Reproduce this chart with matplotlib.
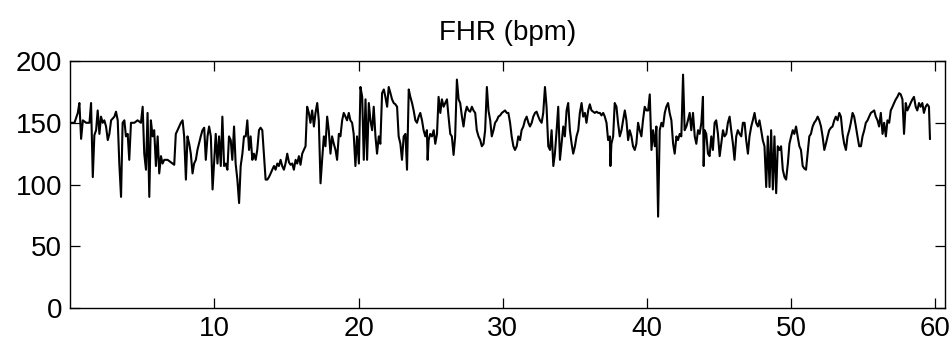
import matplotlib
matplotlib.use("Agg")
import matplotlib.pyplot as plt

plt.rcParams['font.family'] = ['Liberation Sans', 'DejaVu Sans']

# FHR trace (time in minutes, bpm)
minutes = [
    0.06, 0.29, 0.52, 0.63, 0.75, 0.87, 1.10, 1.33, 1.44, 1.56, 1.67, 1.79, 1.90, 2.02, 2.13, 2.25,
    2.36, 2.48, 2.60, 2.71, 2.83, 3.06, 3.17, 3.29, 3.40, 3.52, 3.63, 3.75, 3.86, 3.98, 4.09, 4.21,
    4.44, 4.67, 4.90, 5.02, 5.13, 5.25, 5.36, 5.48, 5.59, 5.71, 5.82, 5.94, 6.06, 6.17, 6.29, 6.40,
    6.52, 6.75, 6.98, 7.21, 7.32, 7.44, 7.67, 7.79, 7.90, 8.02, 8.13, 8.25, 8.36, 8.48, 8.59, 8.71,
    8.82, 9.05, 9.17, 9.29, 9.40, 9.52, 9.63, 9.75, 9.87,
    10.09, 10.21, 10.32, 10.44, 10.55, 10.67, 10.78, 10.90, 11.01, 11.13, 11.24, 11.36, 11.47, 11.59,
    11.71, 11.82, 11.94, 12.05, 12.17, 12.28, 12.40, 12.51, 12.63, 12.74, 12.86, 12.97, 13.09, 13.20,
    13.32, 13.44, 13.55, 13.67, 13.78, 13.90, 14.01, 14.13, 14.24, 14.36, 14.47, 14.59, 14.70, 14.82,
    14.93, 15.05, 15.17, 15.28, 15.40, 15.51, 15.63, 15.74, 15.86, 15.97, 16.09, 16.20, 16.32, 16.43,
    16.55, 16.66, 16.78, 16.90, 17.01, 17.13, 17.24, 17.36, 17.47, 17.59, 17.70, 17.82, 17.93, 18.05,
    18.16, 18.28, 18.40, 18.51, 18.63, 18.74, 18.86, 18.97, 19.09, 19.20, 19.32, 19.43, 19.55, 19.66,
    19.78, 19.89,
    20.02, 20.13, 20.25, 20.36, 20.48, 20.59, 20.71, 20.82, 20.94, 21.05, 21.17, 21.28, 21.40, 21.51,
    21.63, 21.75, 21.86, 21.98, 22.09, 22.21, 22.32, 22.44, 22.55, 22.67, 22.78, 22.90, 23.01, 23.13,
    23.25, 23.36, 23.48, 23.59, 23.71, 23.82, 23.94, 24.05, 24.17, 24.28, 24.40, 24.51, 24.63, 24.74,
    24.79, 24.86, 24.97, 25.09, 25.21, 25.32, 25.44, 25.55, 25.67, 25.78, 25.90, 26.01, 26.13, 26.24,
    26.36, 26.47, 26.59, 26.70, 26.82, 26.94, 27.05, 27.17, 27.28, 27.40, 27.51, 27.63, 27.74, 27.86,
    27.97, 28.09, 28.20, 28.32, 28.44, 28.55, 28.67, 28.78, 28.90, 29.01, 29.13, 29.24, 29.36, 29.47,
    29.59, 29.70, 29.82, 29.94,
    30.16, 30.28, 30.39, 30.51, 30.62, 30.74, 30.85, 30.97, 31.08, 31.20, 31.31, 31.43, 31.54, 31.66,
    31.78, 31.89, 32.01, 32.12, 32.24, 32.35, 32.47, 32.58, 32.70, 32.81, 32.93, 33.04, 33.16, 33.28,
    33.39, 33.51, 33.62, 33.74, 33.85, 33.97, 34.08, 34.20, 34.31, 34.43, 34.54, 34.66, 34.78, 34.89,
    35.01, 35.12, 35.24, 35.35, 35.47, 35.58, 35.70, 35.81, 35.93, 36.04, 36.16, 36.28, 36.39, 36.51,
    36.62, 36.74, 36.85, 36.97, 37.08, 37.20, 37.31, 37.43, 37.47, 37.54, 37.66, 37.77, 37.89, 38.00,
    38.12, 38.24, 38.35, 38.47, 38.58, 38.70, 38.81, 38.93, 39.04, 39.16, 39.27, 39.39, 39.50, 39.62,
    39.73, 39.85, 39.97,
    40.09, 40.20, 40.32, 40.43, 40.55, 40.66, 40.78, 40.89, 41.01, 41.12, 41.24, 41.35, 41.47, 41.58,
    41.70, 41.82, 41.93, 42.05, 42.16, 42.28, 42.39, 42.51, 42.62, 42.74, 42.85, 42.97, 43.08, 43.20,
    43.32, 43.43, 43.55, 43.66, 43.78, 43.89, 43.94, 44.01, 44.12, 44.24, 44.35, 44.47, 44.58, 44.70,
    44.81, 44.93, 45.05, 45.16, 45.28, 45.39, 45.51, 45.62, 45.74, 45.85, 45.97, 46.08, 46.20, 46.31,
    46.43, 46.55, 46.66, 46.78, 46.89, 47.01, 47.12, 47.24, 47.35, 47.47, 47.58, 47.70, 47.81, 47.93,
    48.04, 48.16, 48.28, 48.39, 48.51, 48.62, 48.74, 48.85, 48.97, 49.08, 49.20, 49.31, 49.43, 49.55,
    49.66, 49.78, 49.89, 50.01, 50.12,
    50.23, 50.35, 50.46, 50.58, 50.69, 50.81, 50.92, 51.04, 51.15, 51.27, 51.38, 51.50, 51.61, 51.73,
    51.85, 51.96, 52.08, 52.19, 52.31, 52.42, 52.54, 52.65, 52.77, 52.88, 53.00, 53.11, 53.23, 53.35,
    53.46, 53.58, 53.69, 53.81, 53.92, 54.04, 54.15, 54.27, 54.38, 54.50, 54.61, 54.73, 54.85, 54.96,
    55.08, 55.19, 55.31, 55.42, 55.54, 55.65, 55.77, 55.88, 56.00, 56.11, 56.23, 56.35, 56.46, 56.58,
    56.69, 56.81, 56.92, 57.04, 57.15, 57.27, 57.38, 57.50, 57.61, 57.73, 57.84, 57.96, 58.07, 58.19,
    58.30, 58.42, 58.53, 58.65, 58.76, 58.88, 58.99, 59.11, 59.22, 59.34, 59.45, 59.57, 59.64,
]

fhr = [
    150, 150, 158, 166, 137, 152, 150, 150, 166, 106, 140, 144, 160, 141, 155, 150,
    152, 147, 136, 141, 152, 155, 159, 152, 117, 90, 150, 152, 139, 141, 120, 150,
    150, 152, 150, 163, 125, 112, 158, 90, 152, 139, 144, 115, 139, 109, 123, 117,
    120, 120, 118, 116, 141, 144, 150, 152, 139, 104, 139, 133, 125, 109, 117, 120,
    128, 139, 144, 146, 120, 139, 147, 139, 96,
    141, 117, 139, 115, 155, 115, 117, 112, 139, 136, 120, 147, 117, 104,
    85, 115, 125, 139, 139, 152, 128, 139, 120, 125, 120, 128, 144, 146,
    144, 123, 104, 104, 106, 109, 112, 115, 112, 117, 115, 120, 115, 112,
    117, 125, 118, 116, 117, 112, 120, 117, 123, 116, 125, 128, 131, 163,
    158, 150, 160, 147, 158, 166, 152, 101, 120, 139, 131, 155, 144, 125,
    139, 133, 128, 120, 141, 139, 152, 158, 155, 152, 158, 152, 150, 141,
    115, 139,
    117, 179, 171, 120, 169, 120, 166, 152, 144, 163, 139, 125, 139, 133,
    174, 177, 171, 163, 179, 174, 169, 166, 165, 163, 139, 133, 120, 139,
    141, 112, 177, 171, 166, 160, 152, 150, 155, 158, 152, 144, 139, 144,
    120, 136, 141, 139, 144, 133, 141, 171, 158, 169, 163, 166, 169, 155,
    141, 139, 124, 139, 185, 169, 166, 155, 147, 158, 163, 160, 159, 163,
    160, 158, 144, 139, 136, 131, 133, 144, 179, 160, 152, 139, 144, 150,
    152, 155, 156, 158,
    160, 158, 158, 150, 139, 131, 128, 131, 139, 136, 144, 147, 152, 155,
    150, 147, 150, 155, 158, 159, 155, 152, 150, 158, 179, 163, 131, 128,
    144, 115, 125, 144, 163, 120, 133, 147, 139, 160, 166, 144, 133, 125,
    131, 139, 144, 158, 166, 155, 158, 150, 160, 165, 160, 159, 158, 159,
    158, 158, 156, 158, 155, 150, 136, 139, 115, 133, 139, 166, 163, 150,
    139, 144, 152, 160, 152, 136, 144, 139, 131, 128, 133, 150, 144, 139,
    152, 163, 160,
    160, 173, 128, 144, 131, 147, 74, 144, 150, 147, 158, 163, 166, 158,
    152, 133, 125, 139, 136, 141, 139, 189, 144, 147, 152, 158, 144, 158,
    139, 133, 144, 141, 150, 171, 115, 144, 141, 125, 123, 139, 128, 150,
    152, 141, 123, 133, 144, 139, 141, 150, 155, 144, 133, 120, 139, 144,
    141, 139, 150, 150, 136, 125, 139, 147, 152, 158, 150, 147, 152, 144,
    136, 131, 98, 139, 98, 144, 96, 139, 93, 131, 128, 131, 112, 106,
    104, 117, 133, 139, 144,
    141, 147, 139, 131, 128, 115, 113, 112, 125, 139, 141, 147, 150, 152,
    155, 152, 147, 139, 128, 133, 139, 144, 146, 147, 152, 155, 152, 158,
    155, 141, 133, 128, 139, 144, 150, 158, 155, 147, 139, 131, 131, 139,
    144, 150, 152, 155, 158, 159, 160, 155, 152, 147, 158, 141, 150, 139,
    152, 150, 160, 163, 166, 169, 171, 174, 173, 169, 141, 166, 160, 163,
    166, 169, 171, 163, 160, 166, 163, 166, 158, 163, 165, 163, 137,
]

x_ticks = [10, 20, 30, 40, 50, 60]
y_ticks = [0, 50, 100, 150, 200]

fig = plt.figure(figsize=(9.5, 3.43), dpi=100)
ax = fig.add_axes([0.074, 0.102, 0.921, 0.72])

ax.plot(minutes, fhr, color='black', linewidth=1.5)

ax.set_xlim(0, 60.7)
ax.set_ylim(0, 200)
ax.set_xticks(x_ticks)
ax.set_yticks(y_ticks)
ax.tick_params(direction='in', length=7, width=0.9, labelsize=20,
               top=True, right=True, pad=6)
for s in ax.spines.values():
    s.set_linewidth(1.0)

ax.set_title("FHR (bpm)", fontsize=20, pad=15)

fig.savefig("out.png", dpi=100)
